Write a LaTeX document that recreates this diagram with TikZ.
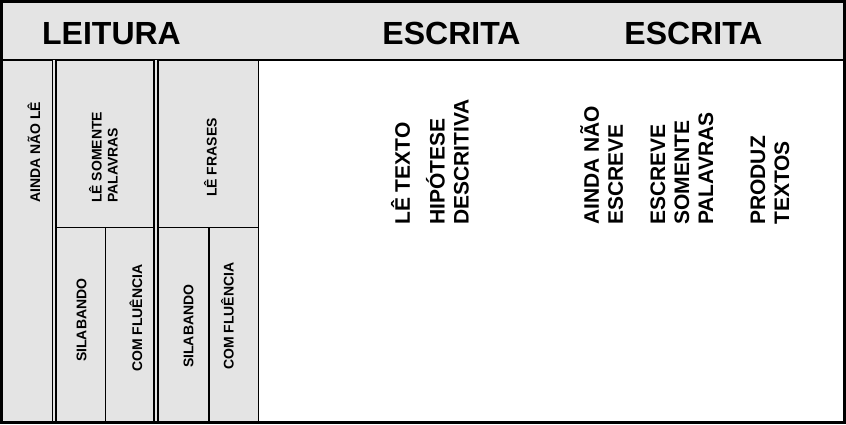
\documentclass[tikz,border=0pt]{standalone}
\usepackage{fontspec}
\setmainfont{Liberation Sans}
\definecolor{cellgray}{HTML}{E4E4E4}
\tikzset{
  cell/.style={fill=cellgray, draw=black, line width=1.7pt},
  small/.style={rotate=90, anchor=west, inner sep=0pt, align=left, font=\fontsize{14}{16}\selectfont\bfseries},
  big/.style={rotate=90, anchor=west, inner sep=0pt, align=left, font=\fontsize{21}{24}\selectfont\bfseries},
  title/.style={inner sep=0pt, font=\fontsize{32}{38}\selectfont\bfseries}
}
\begin{document}
\begin{tikzpicture}[x=1pt, y=-1pt]
        \useasboundingbox (0,0) rectangle (846,424);
        % Header %
        \draw[cell] (1.5,1.5) rectangle (844,60);
        \node [title] (leitura) at (111.5,33.5) {LEITURA};
        \node [title] (escrita) at (451.5,33) {ESCRITA};
        \node [title] (escritab) at (693.5,33) {ESCRITA};
        % Leitura %
        \fill[cellgray] (1.5,60) rectangle (258.5,422);
        \draw[cell] (1.5,60) rectangle (52.5,422);
        \draw[cell] (56.3,60) rectangle (154.3,227.5);
        \draw[cell] (56.3,227.5) rectangle (105.5,422);
        \draw[cell] (105.5,227.5) rectangle (154.3,422);
        \draw[cell] (158,60) rectangle (258.5,227.5);
        \draw[cell] (158,227.5) rectangle (209,422);
        \draw[cell] (209,227.5) rectangle (258.5,422);
        \node [small] (naole) at (34,203) {AINDA NÃO LÊ};
        \node [small] (somente) at (103.5,203) {LÊ SOMENTE\\PALAVRAS};
        \node [small] (frases) at (210.5,197) {LÊ FRASES};
        \node [small] (silaba) at (81.5,362) {SILABANDO};
        \node [small] (fluenciaa) at (136,372) {COM FLUÊNCIA};
        \node [small] (silabb) at (188.5,368) {SILABANDO};
        \node [small] (fluenciab) at (227.5,370) {COM FLUÊNCIA};
        % Escrita %
        \node [big] (letexto) at (400.5,225) {LÊ TEXTO};
        \node [big] (hipotese) at (447.5,225) {HIPÓTESE\\DESCRITIVA};
        \node [big] (naoescreve) at (601.5,225) {AINDA NÃO\\ESCREVE};
        \node [big] (palavras) at (682,225) {ESCREVE\\SOMENTE\\PALAVRAS};
        \node [big] (produz) at (770,225) {PRODUZ\\TEXTOS};
        % Frame %
        \draw[line width=3pt] (1.5,1.5) rectangle (844,422);
\end{tikzpicture}
\end{document}
